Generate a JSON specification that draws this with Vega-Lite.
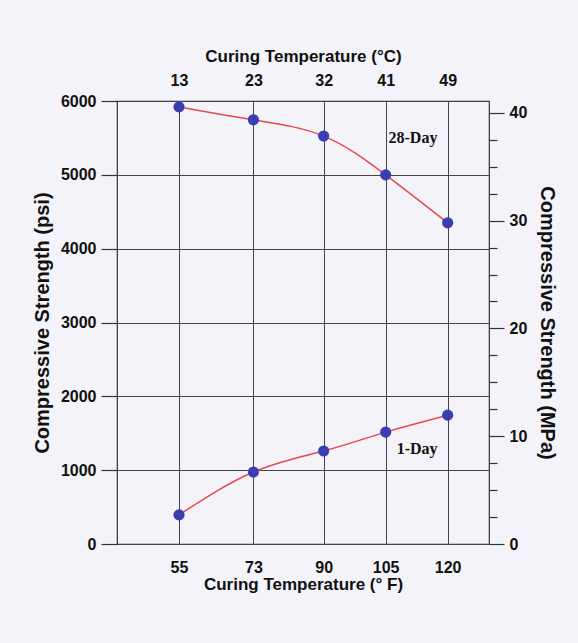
{
  "$schema": "https://vega.github.io/schema/vega-lite/v6.json",
  "width": 372,
  "height": 443,
  "autosize": {"type": "none"},
  "padding": {"left": 117, "top": 101, "right": 89, "bottom": 99},
  "background": "#f3f3f9",
  "config": {
    "view": {"stroke": "#333333", "strokeWidth": 1.2},
    "font": "Liberation Sans",
    "axis": {
      "labelFont": "Liberation Sans",
      "labelFontWeight": "bold",
      "labelFontSize": 16,
      "labelColor": "#111111",
      "titleFont": "Liberation Sans",
      "titleFontWeight": "bold",
      "titleFontSize": 17,
      "titleColor": "#111111",
      "domainColor": "#333333",
      "tickColor": "#333333",
      "tickWidth": 1.2
    }
  },
  "datasets": {
    "strength": [
      {"series": "28-Day", "F": 55, "psi": 5920},
      {"series": "28-Day", "F": 73, "psi": 5745},
      {"series": "28-Day", "F": 90, "psi": 5525},
      {"series": "28-Day", "F": 105, "psi": 5000},
      {"series": "28-Day", "F": 120, "psi": 4350},
      {"series": "1-Day", "F": 55, "psi": 395},
      {"series": "1-Day", "F": 73, "psi": 975},
      {"series": "1-Day", "F": 90, "psi": 1260},
      {"series": "1-Day", "F": 105, "psi": 1515},
      {"series": "1-Day", "F": 120, "psi": 1745}
    ],
    "labels": [
      {"text": "28-Day", "F": 111.6, "psi": 5500},
      {"text": "1-Day", "F": 112.6, "psi": 1290}
    ]
  },
  "layer": [
    {
      "layer": [
        {
          "data": {"name": "strength"},
          "mark": {"type": "line", "color": "#e8474c", "strokeWidth": 1.5, "interpolate": "natural"},
          "encoding": {
            "x": {
              "field": "F", "type": "quantitative",
              "scale": {"domain": [40, 130], "nice": false, "zero": false},
              "axis": {
                "orient": "bottom",
                "values": [55, 73, 90, 105, 120],
                "grid": true, "gridColor": "#444444", "gridWidth": 1,
                "ticks": false, "domain": false,
                "labelPadding": 15,
                "title": "Curing Temperature (° F)",
                "titlePadding": 1
              }
            },
            "y": {
              "field": "psi", "type": "quantitative",
              "scale": {"domain": [0, 6000], "nice": false},
              "axis": {
                "orient": "left",
                "values": [0, 250, 500, 750, 1000, 1250, 1500, 1750, 2000, 2250, 2500, 2750, 3000, 3250, 3500, 3750, 4000, 4250, 4500, 4750, 5000, 5250, 5500, 5750, 6000],
                "labelExpr": "datum.value % 1000 === 0 ? datum.label : ''",
                "format": "d",
                "grid": true, "gridColor": "#444444", "gridWidth": 1,
                "gridOpacity": {"condition": {"test": "datum.value % 1000 === 0", "value": 1}, "value": 0},
                "tickSize": {"condition": {"test": "datum.value % 1000 === 0", "value": 16}, "value": 8},
                "domain": false,
                "labelPadding": 5,
                "title": "Compressive Strength (psi)",
                "titleFontSize": 20,
                "titlePadding": 8
              }
            },
            "detail": {"field": "series"}
          }
        },
        {
          "data": {"name": "strength"},
          "mark": {"type": "point", "filled": true, "color": "#3c3db3", "opacity": 1, "size": 125},
          "encoding": {
            "x": {"field": "F", "type": "quantitative"},
            "y": {"field": "psi", "type": "quantitative"}
          }
        },
        {
          "data": {"name": "labels"},
          "mark": {"type": "text", "font": "Liberation Serif", "fontWeight": "bold", "fontSize": 16, "color": "#111111"},
          "encoding": {
            "x": {"field": "F", "type": "quantitative"},
            "y": {"field": "psi", "type": "quantitative"},
            "text": {"field": "text"}
          }
        }
      ]
    },
    {
      "data": {"values": [{}]},
      "mark": {"type": "point", "opacity": 0},
      "encoding": {
        "y": {
          "datum": 0, "type": "quantitative",
          "scale": {"domain": [0, 41.1], "nice": false},
          "axis": {
            "orient": "right",
            "values": [0, 2.5, 5, 7.5, 10, 12.5, 15, 17.5, 20, 22.5, 25, 27.5, 30, 32.5, 35, 37.5, 40],
            "labelExpr": "datum.value % 10 === 0 ? datum.label : ''",
            "tickSize": {"condition": {"test": "datum.value % 10 === 0", "value": 15}, "value": 8},
            "grid": false, "domain": false,
            "labelPadding": 5,
            "title": "Compressive Strength (MPa)",
            "titleFontSize": 20,
            "titlePadding": 10
          }
        }
      }
    },
    {
      "data": {"values": [{}]},
      "mark": {"type": "point", "opacity": 0},
      "encoding": {
        "x": {
          "datum": 55, "type": "quantitative",
          "scale": {"domain": [40, 130], "nice": false, "zero": false},
          "axis": {
            "orient": "top",
            "values": [55, 73, 90, 105, 120],
            "labelExpr": "datum.value === 55 ? '13' : datum.value === 73 ? '23' : datum.value === 90 ? '32' : datum.value === 105 ? '41' : '49'",
            "ticks": false, "grid": false, "domain": false,
            "labelPadding": 13,
            "title": "Curing Temperature (°C)",
            "titlePadding": 7
          }
        }
      }
    }
  ],
  "resolve": {"scale": {"x": "independent", "y": "independent"}}
}
